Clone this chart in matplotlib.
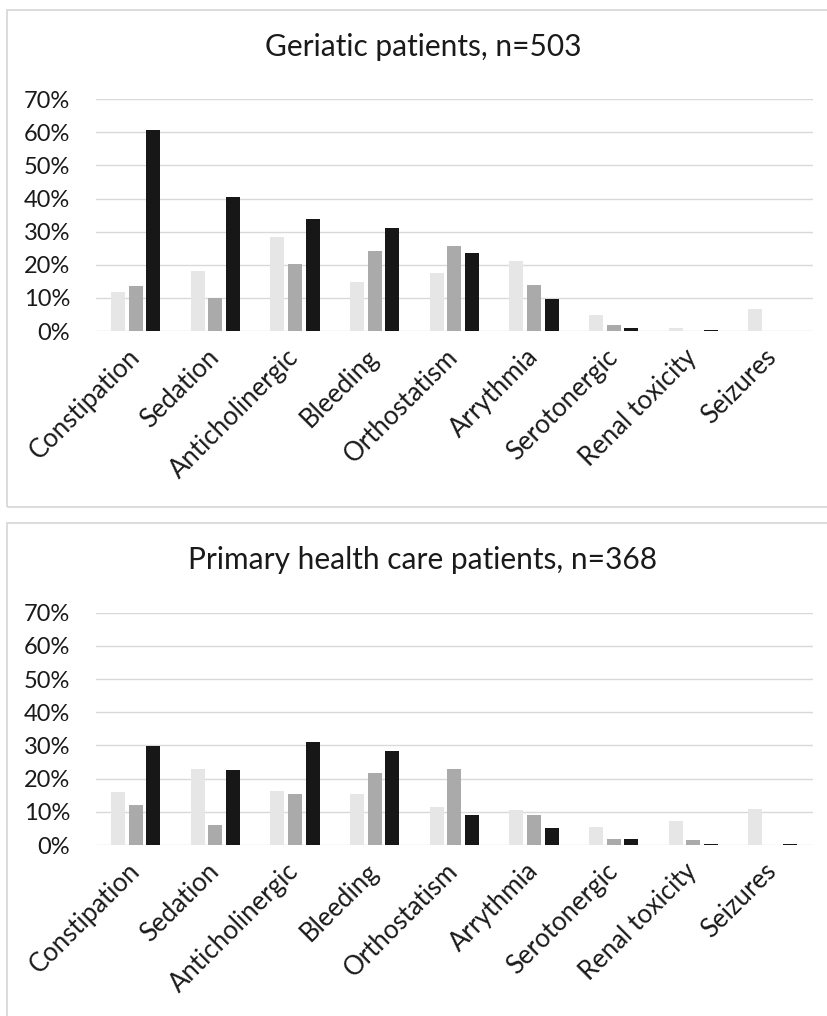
import numpy as np
import matplotlib
matplotlib.use("Agg")
import matplotlib.pyplot as plt
from matplotlib.patches import Rectangle
from matplotlib.ticker import MultipleLocator, FuncFormatter

plt.rcParams['font.family'] = ['Lato', 'DejaVu Sans']

categories = ['Constipation', 'Sedation', 'Anticholinergic', 'Bleeding',
              'Orthostatism', 'Arrythmia', 'Serotonergic', 'Renal toxicity', 'Seizures']

# geriatic patients, n=503 (percent)
ger_light = [11.7, 18.1, 28.3, 14.9, 17.5, 21.1, 4.7, 0.9, 6.5]
ger_mid = [13.7, 10.1, 20.3, 24.1, 25.7, 13.9, 1.9, 0.0, 0.0]
ger_dark = [60.6, 40.5, 33.9, 31.1, 23.5, 9.7, 0.8, 0.3, 0.0]

# primary health care patients, n=368 (percent)
phc_light = [16.0, 22.9, 16.2, 15.4, 11.5, 10.5, 5.3, 7.2, 10.8]
phc_mid = [12.0, 6.1, 15.4, 21.7, 22.9, 9.0, 1.8, 1.5, 0.0]
phc_dark = [29.8, 22.7, 30.9, 28.4, 9.0, 5.0, 1.8, 0.3, 0.4]

colors = ['#e6e6e6', '#aaaaaa', '#171717']
grid_col = '#d9d9d9'
text_col = '#1a1a1a'

W, H = 827, 1016
fig = plt.figure(figsize=(W / 100, H / 100), dpi=100)

# panel frames (pixel coords -> figure fraction)
def frame(x0, y0, x1, y1):
    fig.patches.append(Rectangle((x0 / W, 1 - y1 / H), (x1 - x0) / W, (y1 - y0) / H,
                                 transform=fig.transFigure, fill=False,
                                 edgecolor=grid_col, linewidth=1.3))

frame(7, 9.5, 835, 507)
frame(7, 523, 835, 1030)


def draw_panel(ax, series):
    x = np.arange(len(categories))
    w = 0.176
    step = 0.221
    for k, vals in enumerate(series):
        ax.bar(x + (k - 1) * step, vals, width=w, color=colors[k], zorder=3)
    ax.set_xlim(-0.5, len(categories) - 0.5)
    ax.set_ylim(0, 70)
    ax.yaxis.set_major_locator(MultipleLocator(10))
    ax.yaxis.set_major_formatter(FuncFormatter(lambda v, p: f"{int(v)}%"))
    ax.grid(axis='y', color=grid_col, linewidth=1.0, zorder=0)
    for s in ax.spines.values():
        s.set_visible(False)
    ax.tick_params(axis='both', length=0, labelsize=17, colors=text_col)
    ax.tick_params(axis='y', pad=18.5)
    ax.set_xticks(x)
    ax.set_xticklabels(categories, rotation=45, ha='right', va='center',
                       rotation_mode='anchor', fontsize=18.5)
    ax.tick_params(axis='x', pad=16)
    return ax


ax1 = fig.add_axes([96 / W, 1 - 331 / H, (812.7 - 96) / W, (331 - 99.3) / H])
draw_panel(ax1, [ger_light, ger_mid, ger_dark])
fig.text(423 / W, 1 - 47 / H, 'Geriatic patients, n=503', fontsize=21.5,
         color=text_col, ha='center', va='center')

ax2 = fig.add_axes([96 / W, 1 - 845 / H, (812.7 - 96) / W, (845 - 612.7) / H])
draw_panel(ax2, [phc_light, phc_mid, phc_dark])
fig.text(423 / W, 1 - 560 / H, 'Primary health care patients, n=368', fontsize=21.5,
         color=text_col, ha='center', va='center')

fig.savefig('out.png', dpi=100, facecolor='white')
